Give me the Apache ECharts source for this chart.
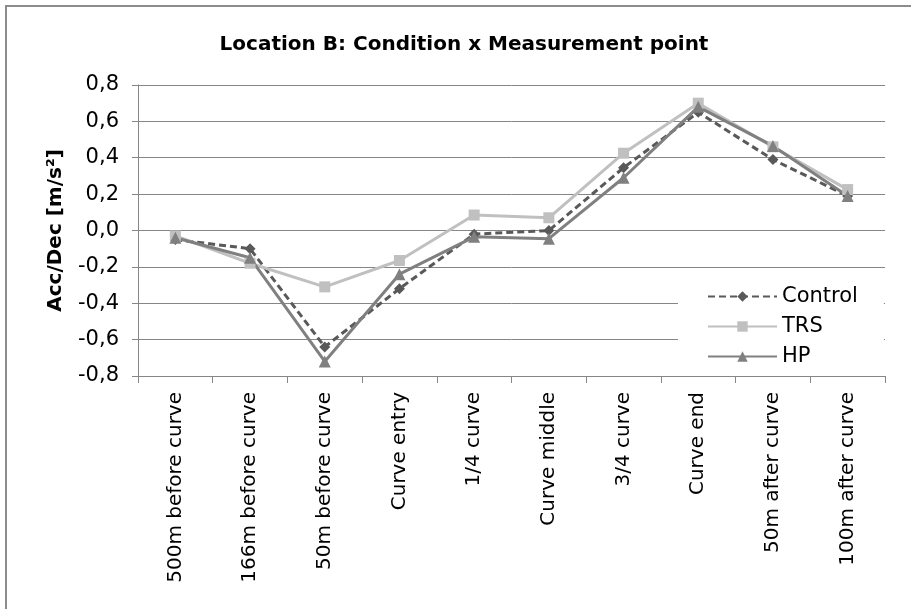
<!DOCTYPE html>
<html>
<head>
<meta charset="utf-8">
<script src="https://cdn.jsdelivr.net/npm/echarts@6/dist/echarts.min.js"></script>
<style>
  html, body { margin: 0; padding: 0; background: #fff; overflow: hidden; }
  #frame { position: absolute; left: 5px; top: 5px; width: 1000px; height: 1000px; border: 2px solid #8c8c8c; box-sizing: border-box; }
  #main { position: absolute; left: 0; top: 0; width: 911px; height: 609px; }
</style>
</head>
<body>
<div id="frame"></div>
<div id="main"></div>
<script>
// measurement points along the curve
const categories = [
  "500m before curve", "166m before curve", "50m before curve", "Curve entry",
  "1/4 curve", "Curve middle", "3/4 curve", "Curve end",
  "50m after curve", "100m after curve"
];
const control = [-0.05, -0.10, -0.64, -0.32, -0.02, 0.00, 0.345, 0.65, 0.39, 0.19];
const trs = [-0.03, -0.18, -0.31, -0.165, 0.085, 0.07, 0.425, 0.70, 0.46, 0.225];
const hp = [-0.04, -0.15, -0.72, -0.24, -0.035, -0.045, 0.29, 0.68, 0.465, 0.19];

const font = "DejaVu Sans";
const chart = echarts.init(document.getElementById('main'));

function line(name, data, color, symbol, size, dashed) {
  return {
    name: name,
    type: 'line',
    data: data,
    symbol: symbol,
    symbolSize: size,
    z: 3,
    lineStyle: { color: color, width: 3, type: dashed ? [7, 4] : 'solid' },
    itemStyle: { color: color }
  };
}

chart.setOption({
  backgroundColor: "transparent",
  animation: false,
  title: {
    text: "Location B: Condition x Measurement point",
    left: 459,
    textAlign: 'center',
    top: 30,
    textStyle: { fontFamily: font, fontWeight: 'bold', fontSize: 20, color: '#000' }
  },
  legend: {
    data: ["Control", "TRS", "HP"],
    orient: 'vertical',
    left: 678,
    top: 280,
    backgroundColor: '#fff',
    padding: [6, 26, 8, 29],
    itemWidth: 69,
    itemHeight: 13,
    itemGap: 9,
    textStyle: { fontFamily: font, fontSize: 21, color: '#000' },
    z: 10
  },
  grid: { left: 138, right: 26, top: 85, bottom: 233, containLabel: false },
  xAxis: {
    type: 'category',
    data: categories,
    boundaryGap: true,
    axisLine: { onZero: false, lineStyle: { color: '#868686', width: 1 } },
    axisTick: { show: true, length: 7, lineStyle: { color: '#868686' } },
    axisLabel: {
      rotate: 90,
      interval: 0,
      margin: 16,
      fontFamily: font,
      fontSize: 20,
      color: '#000'
    }
  },
  yAxis: {
    type: 'value',
    min: -0.8,
    max: 0.8,
    interval: 0.2,
    name: "Acc/Dec [m/s²]",
    nameLocation: 'middle',
    nameGap: 72,
    nameTextStyle: { fontFamily: font, fontWeight: 'bold', fontSize: 20, color: '#000' },
    axisLine: { show: true, lineStyle: { color: '#868686' } },
    axisTick: { show: true, length: 6, lineStyle: { color: '#868686' } },
    splitLine: { lineStyle: { color: '#868686', width: 1 } },
    axisLabel: {
      fontFamily: font,
      fontSize: 21,
      color: '#000',
      margin: 19,
      formatter: v => v.toFixed(1).replace('.', ',')
    }
  },
  series: [
    line("Control", control, '#595959', 'diamond', 11, true),
    line("TRS", trs, '#c0c0c0', 'rect', 11, false),
    line("HP", hp, '#808080', 'triangle', 12, false)
  ]
});
</script>
</body>
</html>
